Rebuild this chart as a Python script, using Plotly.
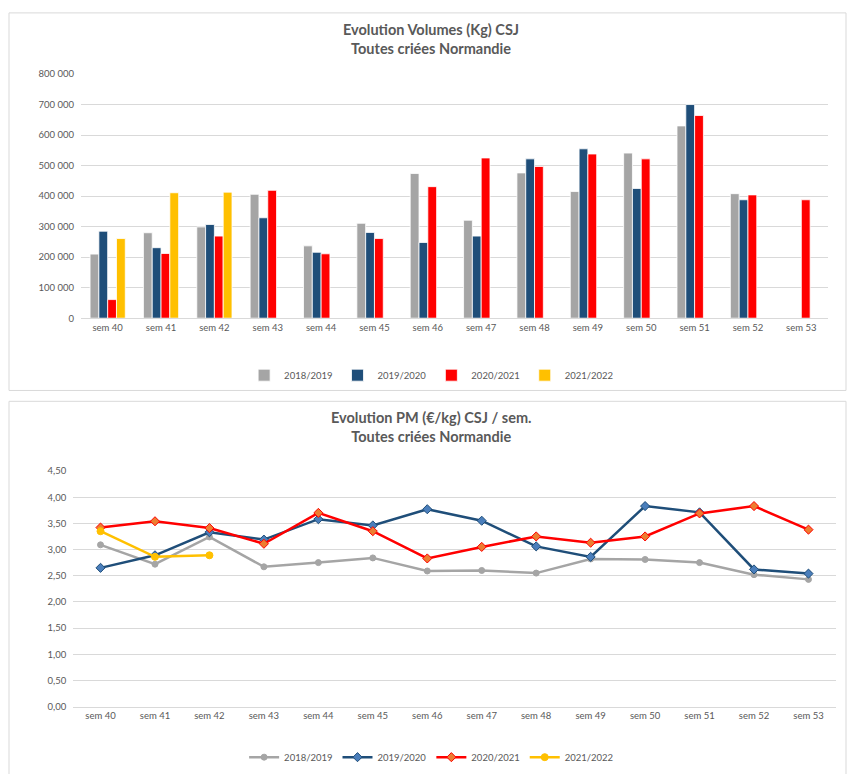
import plotly.graph_objects as go

# ---------------- data ----------------
weeks = ["sem 40", "sem 41", "sem 42", "sem 43", "sem 44", "sem 45", "sem 46",
         "sem 47", "sem 48", "sem 49", "sem 50", "sem 51", "sem 52", "sem 53"]

season_names = ["2018/2019", "2019/2020", "2020/2021", "2021/2022"]

vol_1819 = [210000, 280000, 299000, 406000, 237000, 311000, 474000,
            321000, 476000, 415000, 541000, 630000, 408000, None]
vol_1920 = [285000, 231000, 307000, 329000, 216000, 281000, 248000,
            269000, 522000, 555000, 425000, 700000, 388000, None]
vol_2021 = [61000, 212000, 269000, 419000, 211000, 261000, 431000,
            525000, 497000, 538000, 522000, 664000, 404000, 388000]
vol_2122 = [261000, 411000, 413000, None, None, None, None,
            None, None, None, None, None, None, None]

pm_1819 = [3.09, 2.72, 3.24, 2.67, 2.75, 2.84, 2.59, 2.60, 2.55, 2.82, 2.81, 2.75, 2.52, 2.43]
pm_1920 = [2.65, 2.89, 3.33, 3.19, 3.58, 3.46, 3.77, 3.55, 3.06, 2.86, 3.83, 3.71, 2.62, 2.54]
pm_2021 = [3.42, 3.54, 3.41, 3.11, 3.70, 3.35, 2.83, 3.05, 3.25, 3.13, 3.25, 3.69, 3.83, 3.38]
pm_2122 = [3.35, 2.86, 2.89, None, None, None, None, None, None, None, None, None, None, None]

vol_ticks = [0, 100000, 200000, 300000, 400000, 500000, 600000, 700000, 800000]
pm_ticks = [0, 0.5, 1.0, 1.5, 2.0, 2.5, 3.0, 3.5, 4.0, 4.5]

title_top = "<b>Evolution Volumes (Kg) CSJ</b><br><b>Toutes criées Normandie</b>"
title_bot = "<b>Evolution PM (€/kg) CSJ / sem.</b><br><b>Toutes criées Normandie</b>"

# ---------------- styles ----------------
W, H = 847, 774
GRAY, BLUE, RED, YELLOW = "#A5A5A5", "#1F4E79", "#FF0000", "#FFC000"
TXT = "#595959"
GRID = "#D9D9D9"
FONT = "Lato, 'Open Sans', sans-serif"


def px_x(x):
    return x / W


def px_y(y):
    return 1 - y / H


fig = go.Figure()

bar_colors = [GRAY, BLUE, RED, YELLOW]
for name, vals, col in zip(season_names, [vol_1819, vol_1920, vol_2021, vol_2122], bar_colors):
    fig.add_trace(go.Bar(
        x=weeks, y=vals, name=name, xaxis="x", yaxis="y",
        marker=dict(color=col, line=dict(color="white", width=0.8)),
        legend="legend",
    ))

line_specs = [
    (pm_1819, GRAY, dict(symbol="circle", size=6, color=GRAY, line=dict(color=GRAY, width=1))),
    (pm_1920, BLUE, dict(symbol="diamond", size=7, color="#4A7EBB", line=dict(color=BLUE, width=1))),
    (pm_2021, RED, dict(symbol="diamond", size=7, color="#ED7D31", line=dict(color=RED, width=1))),
    (pm_2122, YELLOW, dict(symbol="circle", size=7, color=YELLOW, line=dict(color=YELLOW, width=1))),
]
for name, (vals, col, mk) in zip(season_names, line_specs):
    fig.add_trace(go.Scatter(
        x=weeks, y=vals, name=name, xaxis="x2", yaxis="y2",
        mode="lines+markers", line=dict(color=col, width=2.5), marker=mk,
        legend="legend2",
    ))

tickfont = dict(family=FONT, size=9.5, color=TXT)

fig.update_layout(
    width=W, height=H,
    margin=dict(l=0, r=0, t=0, b=0),
    paper_bgcolor="white", plot_bgcolor="white",
    separators=", ",
    font=dict(family=FONT, color=TXT),
    barmode="group", bargap=0.34, bargroupgap=0.0,
    xaxis=dict(domain=[px_x(81), px_x(828)], anchor="y", type="category",
               range=[-0.5, 13.5], showgrid=False, showline=True, linecolor=GRID,
               linewidth=1, ticks="", tickfont=tickfont, zeroline=False),
    yaxis=dict(domain=[px_y(316.7), px_y(69)], anchor="x", range=[0, 800000],
               tickvals=vol_ticks, tickformat=",.0f", showgrid=True, gridcolor=GRID,
               gridwidth=1, zeroline=False, showline=False, ticks="",
               tickfont=tickfont, ticklabelstandoff=6),
    xaxis2=dict(domain=[px_x(73.3), px_x(835.7)], anchor="y2", type="category",
                range=[-0.5, 13.5], showgrid=False, showline=True, linecolor=GRID,
                linewidth=1, ticks="", tickfont=tickfont, zeroline=False),
    yaxis2=dict(domain=[px_y(710.7), px_y(471.7)], anchor="x2", range=[0, 4.5],
                tickvals=pm_ticks, tickformat=".2f", showgrid=True, gridcolor=GRID,
                gridwidth=1, zeroline=False, showline=False, ticks="",
                tickfont=tickfont, ticklabelstandoff=6),
    legend=dict(orientation="h", x=0.509, y=px_y(374.5), xanchor="center", yanchor="middle",
                font=dict(family=FONT, size=9.5, color=TXT), itemwidth=30,
                bgcolor="rgba(0,0,0,0)"),
    legend2=dict(orientation="h", x=0.509, y=px_y(762), xanchor="center", yanchor="middle",
                 font=dict(family=FONT, size=9.5, color=TXT), itemwidth=30,
                 bgcolor="rgba(0,0,0,0)"),
    annotations=[
        dict(text=title_top, x=px_x(431), y=px_y(33.5), xref="paper", yref="paper",
             showarrow=False, xanchor="center", yanchor="middle",
             font=dict(family=FONT, size=14.5, color=TXT)),
        dict(text=title_bot, x=px_x(431), y=px_y(426.7), xref="paper", yref="paper",
             showarrow=False, xanchor="center", yanchor="middle",
             font=dict(family=FONT, size=14.5, color=TXT)),
    ],
    shapes=[
        dict(type="rect", xref="paper", yref="paper", x0=px_x(9), x1=px_x(846),
             y0=px_y(390), y1=px_y(7), line=dict(color=GRID, width=1), layer="below"),
        dict(type="rect", xref="paper", yref="paper", x0=px_x(9), x1=px_x(846),
             y0=px_y(780), y1=px_y(401), line=dict(color=GRID, width=1), layer="below"),
    ],
)

fig.write_html("out.html", config={"displayModeBar": False},
               post_script="document.body.style.margin='0px';document.body.style.overflow='hidden';")
